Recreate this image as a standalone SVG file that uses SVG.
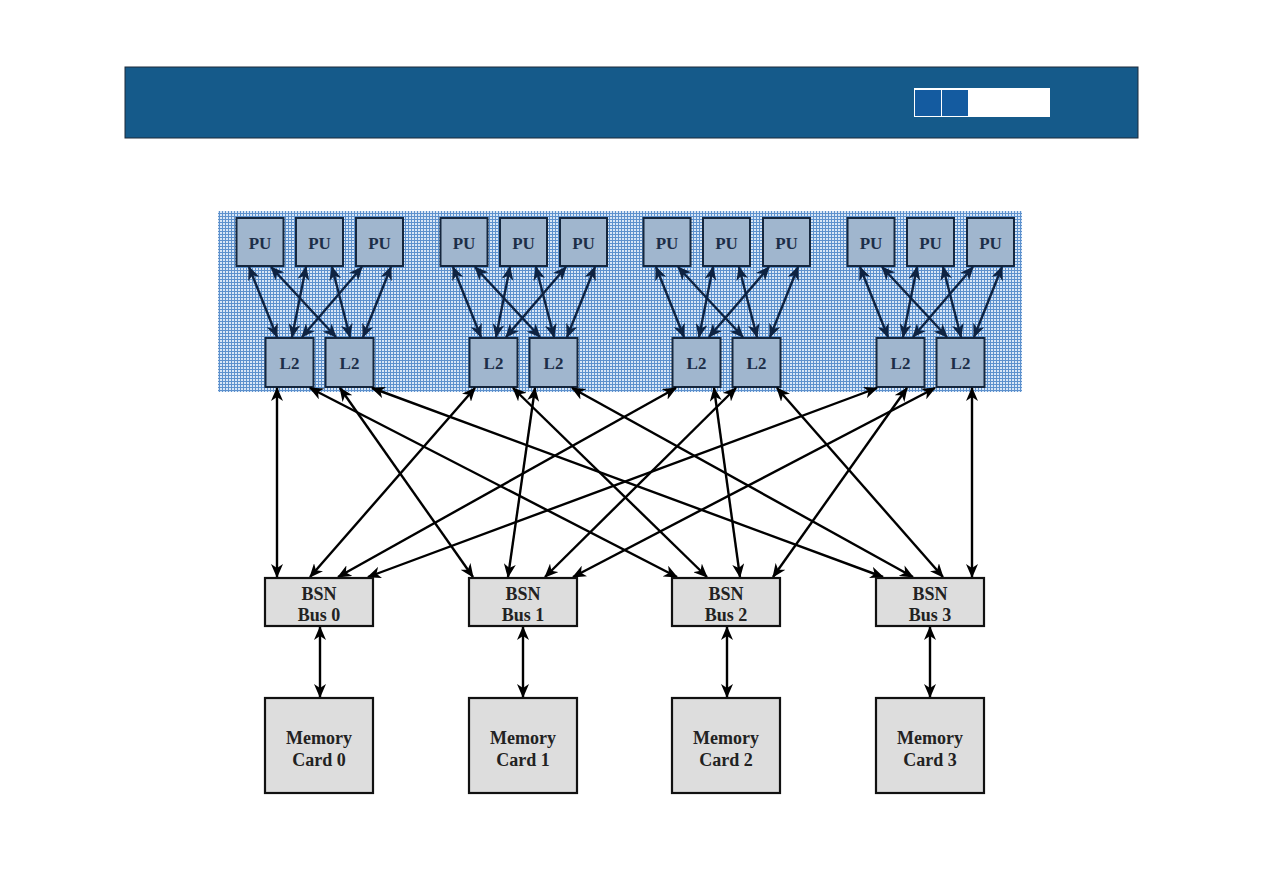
<svg xmlns="http://www.w3.org/2000/svg" width="1263" height="893" viewBox="0 0 1263 893">
<defs>
<style>
.hdr{fill:#155a8a;stroke:#1d2b3b;stroke-width:1}
.unit{fill:#a0b6ce;stroke:#15263d;stroke-width:2}
.utxt{font-family:"Liberation Serif",serif;font-weight:bold;font-size:17px;fill:#1c2e48;text-anchor:middle}
.box{fill:#dddddd;stroke:#111;stroke-width:2.2}
.btxt{font-family:"Liberation Serif",serif;font-weight:bold;font-size:18px;fill:#222;text-anchor:middle}
.nv{stroke:#0e2342;stroke-width:2.4;fill:none;marker-start:url(#an);marker-end:url(#an)}
.bk{stroke:#000;stroke-width:2.4;fill:none;marker-start:url(#ab);marker-end:url(#ab)}
</style>
<pattern id="grid" width="3" height="3" patternUnits="userSpaceOnUse">
<rect width="3" height="3" fill="#d8e6f6"/>
<rect width="3" height="1" fill="#5d91cd"/>
<rect width="1" height="3" fill="#5d91cd"/>
</pattern>
<marker id="an" viewBox="0 0 14 12" markerWidth="14" markerHeight="12" refX="13" refY="6" orient="auto-start-reverse" markerUnits="userSpaceOnUse">
<path d="M0,0 L14,6 L0,12 L4,6 z" fill="#0e2342"/>
</marker>
<marker id="ab" viewBox="0 0 14 12" markerWidth="14" markerHeight="12" refX="13" refY="6" orient="auto-start-reverse" markerUnits="userSpaceOnUse">
<path d="M0,0 L14,6 L0,12 L4,6 z" fill="#000"/>
</marker>
<g id="cluster">
<rect class="unit" x="236.5" y="218" width="47" height="48"/>
<text class="utxt" x="260" y="249">PU</text>
<rect class="unit" x="296" y="218" width="47" height="48"/>
<text class="utxt" x="319.5" y="249">PU</text>
<rect class="unit" x="356" y="218" width="47" height="48"/>
<text class="utxt" x="379.5" y="249">PU</text>
<rect class="unit" x="265.5" y="338" width="48" height="49"/>
<text class="utxt" x="289.5" y="369">L2</text>
<rect class="unit" x="325.5" y="338" width="48" height="49"/>
<text class="utxt" x="349.5" y="369">L2</text>
<line class="nv" x1="249" y1="267" x2="277" y2="337"/>
<line class="nv" x1="271" y1="267" x2="336" y2="337"/>
<line class="nv" x1="306" y1="267" x2="292" y2="337"/>
<line class="nv" x1="332" y1="267" x2="350" y2="337"/>
<line class="nv" x1="362" y1="267" x2="302" y2="337"/>
<line class="nv" x1="391" y1="267" x2="363" y2="337"/>
</g>
</defs>

<g id="header">
<rect class="hdr" x="125" y="67" width="1013" height="71"/>
<rect x="914" y="88" width="136" height="29" fill="#ffffff"/>
<rect x="915" y="90" width="26" height="26" fill="#145ba0"/>
<rect x="942" y="90" width="26" height="26" fill="#145ba0"/>
</g>

<rect id="book-area" x="218" y="211" width="804" height="181" fill="url(#grid)"/>

<g id="book0"><use href="#cluster"/></g>
<g id="book1"><use href="#cluster" transform="translate(204,0)"/></g>
<g id="book2"><use href="#cluster" transform="translate(407,0)"/></g>
<g id="book3"><use href="#cluster" transform="translate(611,0)"/></g>

<g id="connectors">
<line class="bk" x1="277" y1="388" x2="277" y2="577"/>
<line class="bk" x1="310" y1="388" x2="677" y2="577"/>
<line class="bk" x1="340" y1="388" x2="473" y2="577"/>
<line class="bk" x1="372" y1="388" x2="883" y2="577"/>
<line class="bk" x1="475" y1="388" x2="310" y2="577"/>
<line class="bk" x1="513" y1="388" x2="707" y2="577"/>
<line class="bk" x1="535" y1="388" x2="508" y2="577"/>
<line class="bk" x1="572" y1="388" x2="913" y2="577"/>
<line class="bk" x1="676" y1="388" x2="338" y2="577"/>
<line class="bk" x1="714" y1="388" x2="740" y2="577"/>
<line class="bk" x1="736" y1="388" x2="545" y2="577"/>
<line class="bk" x1="777" y1="388" x2="943" y2="577"/>
<line class="bk" x1="877" y1="388" x2="368" y2="577"/>
<line class="bk" x1="907" y1="388" x2="773" y2="577"/>
<line class="bk" x1="935" y1="388" x2="573" y2="577"/>
<line class="bk" x1="972" y1="388" x2="972" y2="577"/>
<line class="bk" x1="320" y1="627" x2="320" y2="697"/>
<line class="bk" x1="523" y1="627" x2="523" y2="697"/>
<line class="bk" x1="727" y1="627" x2="727" y2="697"/>
<line class="bk" x1="930" y1="627" x2="930" y2="697"/>
</g>

<g id="bus0"><rect class="box" x="265" y="578" width="108" height="48"/><text class="btxt" x="319" y="600">BSN</text><text class="btxt" x="319" y="621">Bus 0</text></g>
<g id="bus1"><rect class="box" x="469" y="578" width="108" height="48"/><text class="btxt" x="523" y="600">BSN</text><text class="btxt" x="523" y="621">Bus 1</text></g>
<g id="bus2"><rect class="box" x="672" y="578" width="108" height="48"/><text class="btxt" x="726" y="600">BSN</text><text class="btxt" x="726" y="621">Bus 2</text></g>
<g id="bus3"><rect class="box" x="876" y="578" width="108" height="48"/><text class="btxt" x="930" y="600">BSN</text><text class="btxt" x="930" y="621">Bus 3</text></g>

<g id="mem0"><rect class="box" x="265" y="698" width="108" height="95"/><text class="btxt" x="319" y="744">Memory</text><text class="btxt" x="319" y="766">Card 0</text></g>
<g id="mem1"><rect class="box" x="469" y="698" width="108" height="95"/><text class="btxt" x="523" y="744">Memory</text><text class="btxt" x="523" y="766">Card 1</text></g>
<g id="mem2"><rect class="box" x="672" y="698" width="108" height="95"/><text class="btxt" x="726" y="744">Memory</text><text class="btxt" x="726" y="766">Card 2</text></g>
<g id="mem3"><rect class="box" x="876" y="698" width="108" height="95"/><text class="btxt" x="930" y="744">Memory</text><text class="btxt" x="930" y="766">Card 3</text></g>
</svg>
